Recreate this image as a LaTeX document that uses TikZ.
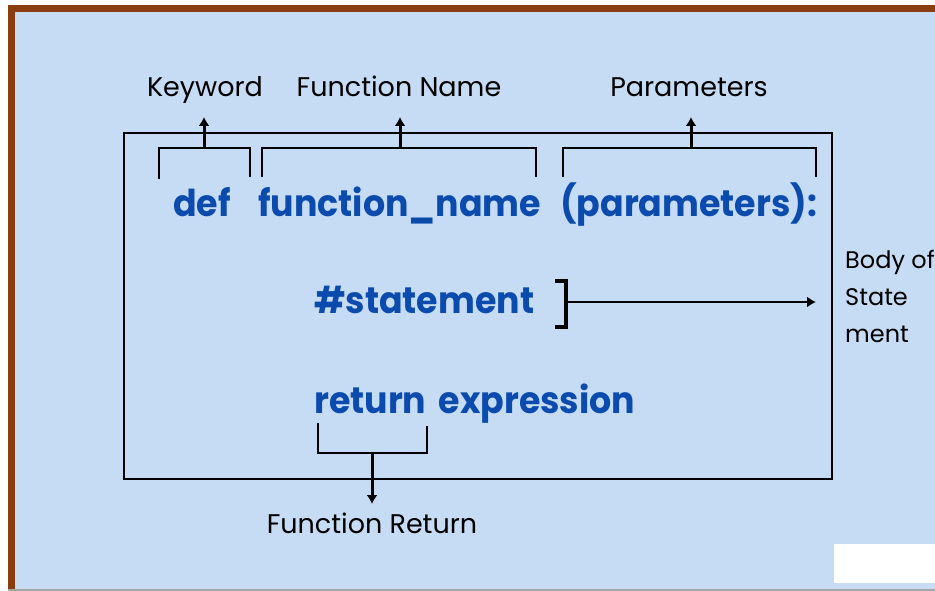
\documentclass[tikz,border=0pt]{standalone}
\usepackage{fontspec}
\setmainfont{Poppins}
\newfontfamily\codefont{Poppins}[FakeStretch=0.94]
\usepackage{tikz}
\usetikzlibrary{arrows.meta}

\definecolor{panelblue}{HTML}{C6DBF4}
\definecolor{framebrown}{HTML}{8A3D0E}
\definecolor{codeblue}{HTML}{0B4BAE}

\begin{document}
\begin{tikzpicture}[x=1pt,y=-1pt,
		line/.style={line width=1.8pt},
		arr/.style={line width=3pt,-{Latex[length=9pt,width=11pt]}},
		lbl/.style={inner sep=0pt,font=\fontsize{27}{32}\selectfont},
		side/.style={inner sep=0pt,anchor=base west,font=\fontsize{24}{28}\selectfont},
		code/.style={inner sep=0pt,anchor=base west,text=codeblue,font=\codefont\fontsize{37}{44}\selectfont\bfseries}]
				\useasboundingbox (0,0) rectangle (935,591);
				\fill [white] (0,0) rectangle (935,591);
				\fill [framebrown] (8,5) rectangle (935,12);
				\fill [framebrown] (8,5) rectangle (15,589);
				\fill [panelblue] (15,12) rectangle (935,589);
				\fill [black!35] (8,589) rectangle (935,591);
				\fill [white] (834,544) rectangle (935,583);
				
				\draw [line] (124,133) rectangle (832,479);
				
				\node [code] (def) at (173,217) {def};
				\node [code] (fname) at (258,217) {function\_name};
				\node [code] (params) at (560,217) {(parameters):};
				\node [code] (stmt) at (314,313) {\#statement};
				\node [code] (ret) at (314,413) {return\kern5pt\ expression};
				
				\node [lbl, anchor=base] (kw) at (205,97) {Keyword};
				\node [lbl, anchor=base] (fn) at (399,97) {Function Name};
				\node [lbl, anchor=base] (par) at (689,97) {Parameters};
				\node [lbl, anchor=base] (fret) at (372,533) {Function Return};
				
				\node [side] (body1) at (845,268) {Body of};
				\node [side] (body2) at (845,305) {State};
				\node [side] (body3) at (845,342) {ment};
				
				\draw [line] (159,179) |- (250,148) -- (250,177);
				\draw [line] (262,177) |- (536,148) -- (536,177);
				\draw [line] (563,177) |- (816,148) -- (816,177);
				\draw [line] (318,423) |- (427,453) -- (427,426);
				\draw [line width=3.6pt] (555,281) -| (566,327) -- (555,327);
				
				\coordinate (kwfoot) at (204,148);
				\coordinate (kwtip) at (204,117);
				\coordinate (fnfoot) at (400,148);
				\coordinate (fntip) at (400,117);
				\coordinate (parfoot) at (691,148);
				\coordinate (partip) at (691,117);
				\coordinate (stmtfoot) at (566,302);
				\coordinate (stmttip) at (816,302);
				\coordinate (retfoot) at (372,453);
				\coordinate (rettip) at (372,504);
				
				\draw [arr] (kwfoot) -- (kwtip);
				\draw [arr] (fnfoot) -- (fntip);
				\draw [arr] (parfoot) -- (partip);
				\draw [arr, line width=1.8pt] (stmtfoot) -- (stmttip);
				\draw [arr] (retfoot) -- (rettip);
\end{tikzpicture}
\end{document}
